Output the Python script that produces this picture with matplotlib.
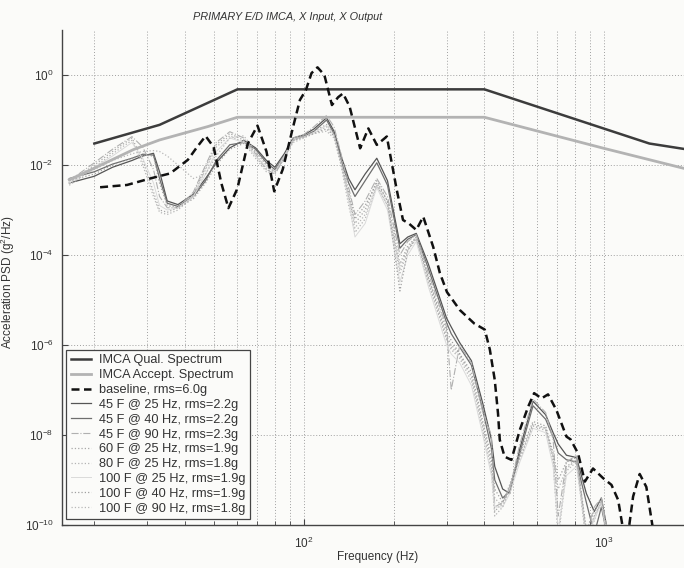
import numpy as np
import matplotlib
matplotlib.use("Agg")
import matplotlib.pyplot as plt
from matplotlib.ticker import LogLocator, NullLocator, NullFormatter

plt.rcParams['font.family'] = ['Liberation Sans', 'DejaVu Sans']
plt.rcParams['mathtext.fontset'] = 'custom'
plt.rcParams['mathtext.rm'] = 'Liberation Sans'
plt.rcParams['mathtext.it'] = 'Liberation Sans:italic'

# spec envelopes (Hz, g^2/Hz)
qual_f = [20, 33, 60, 400, 1420, 2000]
qual_psd = [0.030, 0.078, 0.48, 0.48, 0.030, 0.021]
accept_f = [16.5, 20, 27, 33, 48, 60, 400, 1000, 2000]
accept_psd = [0.0047, 0.0085, 0.022, 0.036, 0.072, 0.115, 0.115, 0.0235, 0.0074]

# baseline run
base_f = [20.9, 25.7, 31, 35.8, 41, 44, 47, 50, 53, 56, 60, 65, 70, 75, 79.6, 85,
          92, 97, 101.5, 106, 111, 117, 124, 130, 135, 142, 154, 164, 175, 189,
          204, 214, 224, 237, 250, 270, 284, 300, 331, 370, 401, 417, 433, 444,
          450, 467, 492, 525, 560, 586, 620, 652, 695, 751, 775, 821, 865, 921,
          995, 1061, 1117, 1160, 1200, 1253, 1318, 1387, 1460]
base_psd = [3.2e-3, 3.6e-3, 5.1e-3, 6.5e-3, 1.3e-2, 2.5e-2, 4.4e-2, 2.5e-2, 4e-3,
            1.1e-3, 3e-3, 3e-2, 7.5e-2, 2e-2, 2.6e-3, 8e-3, 7e-2, 0.28, 0.46, 1.1,
            1.48, 1.0, 0.215, 0.32, 0.39, 0.2, 2.35e-2, 6.5e-2, 2.8e-2, 4.3e-2,
            2.8e-3, 6e-4, 5e-4, 3.6e-4, 7.1e-4, 1.5e-4, 4e-5, 1.5e-5, 6e-6, 3e-6,
            2.2e-6, 7.9e-7, 1.67e-7, 3e-8, 7.8e-9, 3.3e-9, 2.8e-9, 1.3e-8, 4.3e-8,
            8.5e-8, 6.5e-8, 8e-8, 3.6e-8, 9.2e-9, 8e-9, 3.9e-9, 9.2e-10, 1.8e-9,
            1.1e-9, 7.8e-10, 3.6e-10, 8e-11, 5e-11, 4.3e-10, 1.36e-9, 7e-10, 8e-11]

# test runs, common frequency grid, values as log10(g^2/Hz)
test_f = [16.5, 20, 23, 26.7, 29, 31.5, 33, 35, 38, 42.8, 47, 51, 56.6, 63, 69,
          75, 80, 86, 92, 100, 108, 119, 126, 133, 141, 148, 160, 175, 190, 209,
          222, 237, 260, 299, 310, 331, 362, 395, 422, 433, 460, 486, 525, 581,
          640, 678, 705, 751, 811, 875, 930, 982, 1047]
t45_25 = [-2.40, -2.25, -2.05, -1.90, -1.80, -1.74, -2.15, -2.80, -2.88, -2.65,
          -2.30, -1.95, -1.62, -1.45, -1.62, -1.90, -2.05, -1.75, -1.40, -1.33,
          -1.20, -0.95, -1.25, -1.80, -2.30, -2.55, -2.20, -1.85, -2.35, -3.75,
          -3.60, -3.52, -4.20, -5.40, -5.60, -5.95, -6.35, -7.30, -8.10, -8.70,
          -9.20, -9.30, -8.30, -7.25, -7.55, -7.95, -8.20, -8.45, -8.50, -9.30,
          -9.70, -9.40, -10.4]
t45_40 = [-2.30, -2.15, -1.98, -1.85, -1.76, -1.78, -2.30, -2.85, -2.92, -2.70,
          -2.35, -1.90, -1.55, -1.50, -1.65, -1.95, -2.10, -1.80, -1.45, -1.36,
          -1.25, -1.00, -1.30, -1.90, -2.40, -2.70, -2.35, -1.95, -2.45, -3.85,
          -3.65, -3.55, -4.30, -5.50, -5.75, -6.05, -6.45, -7.45, -8.30, -9.00,
          -9.40, -9.25, -8.40, -7.35, -7.65, -8.05, -8.40, -8.55, -8.60, -9.50,
          -10.2, -9.60, -10.5]
t45_90 = [-2.35, -1.95, -1.65, -1.37, -1.60, -2.10, -2.70, -2.95, -2.95, -2.60,
          -2.00, -1.50, -1.26, -1.40, -1.75, -2.10, -2.20, -1.85, -1.40, -1.32,
          -1.15, -0.90, -1.15, -1.75, -2.50, -3.10, -2.80, -2.30, -2.70, -4.00,
          -3.70, -3.55, -4.40, -5.60, -7.00, -6.00, -6.40, -7.50, -8.00, -9.60,
          -9.50, -9.20, -8.20, -7.20, -7.50, -8.10, -9.80, -8.60, -8.45, -10.2,
          -9.60, -9.40, -10.4]
t60_25 = [-2.40, -2.00, -1.70, -1.40, -1.90, -2.60, -3.00, -3.05, -2.95, -2.65,
          -2.05, -1.55, -1.30, -1.45, -1.80, -2.10, -2.15, -1.80, -1.45, -1.35,
          -1.25, -1.10, -1.30, -1.90, -2.70, -3.30, -3.00, -2.35, -2.80, -4.20,
          -3.80, -3.60, -4.50, -5.80, -6.00, -6.20, -6.70, -7.80, -8.60, -9.70,
          -9.50, -9.15, -8.50, -7.75, -7.85, -8.50, -10.2, -8.70, -8.55, -10.3,
          -9.80, -9.50, -10.5]
t80_25 = [-2.45, -2.05, -1.75, -1.45, -2.00, -2.70, -3.05, -3.10, -3.00, -2.70,
          -2.10, -1.60, -1.35, -1.50, -1.85, -2.15, -2.20, -1.85, -1.50, -1.40,
          -1.30, -1.15, -1.35, -2.00, -2.90, -3.50, -3.20, -2.45, -2.90, -4.40,
          -3.90, -3.65, -4.60, -5.90, -6.10, -6.30, -6.80, -7.90, -8.80, -9.80,
          -9.60, -9.20, -8.55, -7.80, -7.90, -8.60, -10.3, -8.80, -8.60, -10.4,
          -9.90, -9.45, -10.6]
t100_25 = [-2.40, -2.05, -1.80, -1.50, -1.85, -2.40, -2.90, -3.00, -2.95, -2.70,
           -2.20, -1.70, -1.40, -1.50, -1.80, -2.05, -2.15, -1.80, -1.45, -1.38,
           -1.28, -1.12, -1.35, -1.95, -2.80, -3.60, -3.30, -2.50, -3.00, -4.60,
           -4.00, -3.70, -4.70, -6.00, -6.20, -6.40, -6.90, -8.00, -8.90, -9.60,
           -9.60, -9.30, -8.60, -7.85, -7.95, -8.70, -10.1, -8.90, -8.70, -10.2,
           -9.90, -9.50, -10.6]
t100_40 = [-2.35, -2.20, -2.00, -1.85, -1.78, -1.80, -2.40, -2.90, -2.95, -2.75,
           -2.40, -2.00, -1.65, -1.52, -1.70, -2.00, -2.15, -1.85, -1.45, -1.38,
           -1.30, -1.20, -1.35, -1.95, -2.60, -3.20, -2.90, -2.40, -2.80, -4.80,
           -3.90, -3.60, -4.50, -5.70, -5.90, -6.20, -6.60, -7.70, -8.50, -9.20,
           -9.50, -9.10, -8.40, -7.70, -7.80, -8.40, -9.00, -8.60, -8.50, -10.1,
           -9.70, -9.40, -10.5]
t100_90 = [-2.35, -2.10, -1.90, -1.75, -1.70, -1.68, -1.70, -1.80, -2.00, -2.30,
           -2.20, -1.80, -1.40, -1.35, -1.70, -2.00, -2.15, -1.85, -1.45, -1.35,
           -1.30, -1.25, -1.40, -2.00, -2.70, -3.40, -3.10, -2.45, -2.90, -4.30,
           -3.85, -3.60, -4.60, -5.85, -6.05, -6.25, -6.70, -7.80, -8.70, -9.40,
           -9.60, -9.15, -8.50, -7.80, -7.85, -8.50, -9.20, -8.75, -8.55, -10.3,
           -9.80, -9.50, -10.6]

test_labels = ["45 F @ 25 Hz, rms=2.2g", "45 F @ 40 Hz, rms=2.2g",
               "45 F @ 90 Hz, rms=2.3g", "60 F @ 25 Hz, rms=1.9g",
               "80 F @ 25 Hz, rms=1.8g", "100 F @ 25 Hz, rms=1.9g",
               "100 F @ 40 Hz, rms=1.9g", "100 F @ 90 Hz, rms=1.8g"]
test_runs = [t45_25, t45_40, t45_90, t60_25, t80_25, t100_25, t100_40, t100_90]
test_styles = [("#555555", "-", 0.9), ("#6e6e6e", "-", 0.9),
               ("#b0b0b0", "-.", 0.8), ("#a8a8a8", ":", 0.9),
               ("#b4b4b4", ":", 0.9), ("#dadada", "-", 0.7),
               ("#a0a0a0", ":", 0.9), ("#b8b8b8", ":", 0.9)]

bg = "#fbfbf9"
fig = plt.figure(figsize=(6.84, 5.68), dpi=100, facecolor=bg)
ax = fig.add_axes([62 / 684, 43 / 568, 632 / 684, 495 / 568], facecolor=bg)

ax.plot(qual_f, qual_psd, color="#3c3c3c", lw=1.8, label="IMCA Qual. Spectrum", zorder=4)
ax.plot(accept_f, accept_psd, color="#b3b3b3", lw=2.0, label="IMCA Accept. Spectrum", zorder=4)
ax.plot(base_f, base_psd, color="#111111", lw=1.8, ls=(0, (3.2, 1.8)),
        label="baseline, rms=6.0g", zorder=5)
for vals, lab, (c, ls, lw) in zip(test_runs, test_labels, test_styles):
    ax.plot(test_f, 10.0 ** np.array(vals), color=c, ls=ls, lw=lw, label=lab, zorder=3)

ax.set_xscale("log")
ax.set_yscale("log")
ax.set_xlim(15.6, 2000)
ax.set_ylim(1e-10, 1e1)
ax.set_yticks([1e0, 1e-2, 1e-4, 1e-6, 1e-8, 1e-10])
ax.yaxis.set_minor_locator(NullLocator())
ax.xaxis.set_minor_locator(LogLocator(base=10, subs=np.arange(2, 10)))
ax.xaxis.set_minor_formatter(NullFormatter())

ax.grid(True, which="major", axis="both", color="#a0a0a0", ls=(0, (1, 2)), lw=0.7)
ax.grid(True, which="minor", axis="x", color="#a0a0a0", ls=(0, (1, 2)), lw=0.7)
for s in ["top", "right"]:
    ax.spines[s].set_visible(False)
for s in ["left", "bottom"]:
    ax.spines[s].set_color("#444444")
    ax.spines[s].set_linewidth(1.0)
ax.tick_params(which="both", direction="in", colors="#444444", labelsize=8.5,
               labelcolor="#333333")
ax.tick_params(which="major", length=4)
ax.tick_params(which="minor", length=3)
ax.tick_params(axis="x", which="major", pad=8)
ax.tick_params(axis="y", which="major", pad=6)

ax.set_xlabel("Frequency (Hz)", fontsize=8.5, color="#333333")
ax.xaxis.set_label_coords(0.5, -0.052)
ax.set_ylabel("Acceleration PSD (g$^2$/Hz)", fontsize=8.5, color="#333333")
ax.yaxis.set_label_coords(-0.071, 0.49)
fig.text(288 / 684, 1 - 17 / 568, "PRIMARY E/D IMCA, X Input, X Output",
         fontsize=7.8, style="italic", color="#333333", ha="center", va="center")

leg = ax.legend(loc="lower left", bbox_to_anchor=(0.007, 0.012), fontsize=9.2,
                labelspacing=0.22, handlelength=1.6, handletextpad=0.6,
                borderpad=0.35, borderaxespad=0.0, fancybox=False,
                framealpha=1.0, facecolor=bg, edgecolor="#444444")
leg.get_frame().set_linewidth(0.9)
for t in leg.get_texts():
    t.set_color("#333333")

fig.savefig("out.png", dpi=100, facecolor=fig.get_facecolor())
